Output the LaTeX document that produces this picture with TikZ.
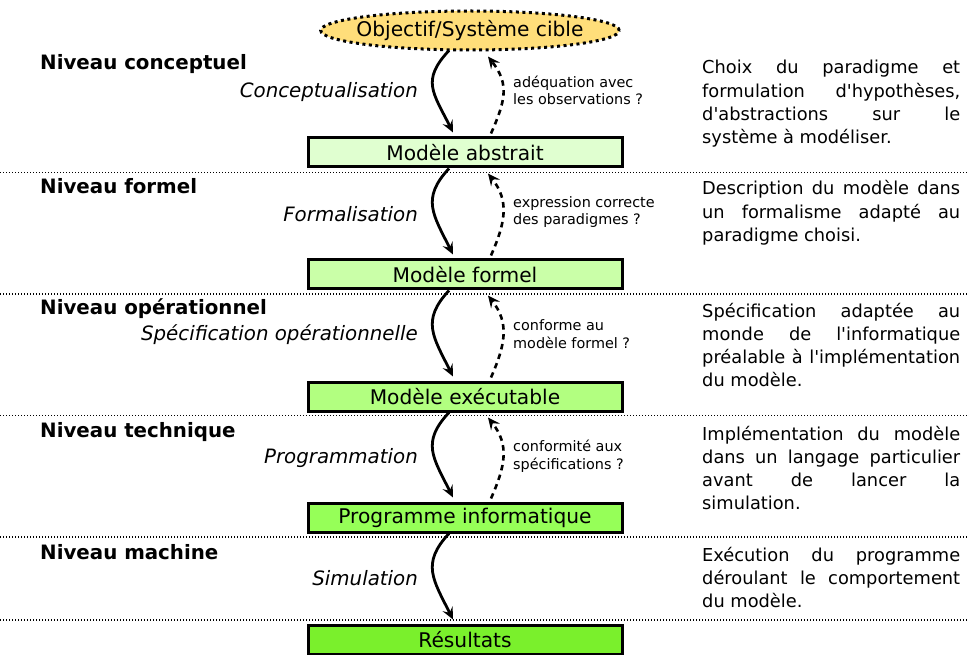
\documentclass[tikz,border=0pt]{standalone}
\usepackage{fontspec}
\setmainfont{DejaVu Sans}[Ligatures=TeXOff]
\usetikzlibrary{arrows.meta,shapes.geometric}

\definecolor{cible}{RGB}{255,222,122}
\definecolor{vertA}{RGB}{224,255,208}
\definecolor{vertB}{RGB}{202,255,168}
\definecolor{vertC}{RGB}{178,255,128}
\definecolor{vertD}{RGB}{150,255,88}
\definecolor{vertE}{RGB}{122,240,44}

\hyphenpenalty=10000
\tolerance=10000

\begin{document}
\begin{tikzpicture}[x=1pt,y=-1pt]
			\tikzstyle{modele}=[draw=black,line width=3pt,minimum width=314pt,minimum height=29pt,inner sep=0pt,font=\fontsize{20.2}{24}\selectfont]
			\tikzstyle{niveau}=[anchor=base west,inner sep=0pt,font=\fontsize{19.8}{23}\selectfont\bfseries]
			\tikzstyle{etape}=[anchor=base east,inner sep=0pt,font=\fontsize{19.8}{23}\selectfont\itshape]
			\tikzstyle{question}=[anchor=base west,inner sep=0pt,align=left,font=\fontsize{14.4}{17.5}\selectfont]
			\tikzstyle{descr}=[anchor=base west,inner sep=0pt,text width=258pt,align=justify,font=\fontsize{17.8}{23.3}\selectfont]
			\tikzstyle{sep}=[line width=1.2pt,dash pattern=on 1.2pt off 1.8pt]
			\tikzstyle{aller}=[line width=2.8pt,-{Stealth[length=12pt,width=11pt,inset=4.5pt]}]
			\tikzstyle{retour}=[line width=2.6pt,dash pattern=on 5.5pt off 4.5pt,-{Stealth[length=12pt,width=11pt,inset=4.5pt]}]
				\useasboundingbox (0,0) rectangle (967,655);
				% separateurs des niveaux
				\draw[sep] (0,172.5) -- (967,172.5);
				\draw[sep] (0,294) -- (967,294);
				\draw[sep] (0,415.5) -- (967,415.5);
				\draw[sep] (0,537) -- (967,537);
				\draw[sep] (0,620) -- (967,620);
				% modeles
				\node[ellipse,draw=black,fill=cible,line width=3pt,dash pattern=on 3pt off 3.5pt,minimum width=296pt,minimum height=39pt,inner xsep=-8pt,inner ysep=0pt,font=\fontsize{20.2}{24}\selectfont](cible) at (470,30.5){Objectif/Système cible};
				\node[modele,fill=vertA](abstrait) at (465,152.5){Modèle abstrait};
				\node[modele,fill=vertB](formel) at (465,274.5){Modèle formel};
				\node[modele,fill=vertC](executable) at (465,396.5){Modèle exécutable};
				\node[modele,fill=vertD](programme) at (465,517.5){Programme informatique};
				\node[modele,fill=vertE](resultats) at (465,639.5){Résultats};
				% niveaux
				\node[niveau](n1) at (40,70){Niveau conceptuel};
				\node[niveau](n2) at (40,193.5){Niveau formel};
				\node[niveau](n3) at (40,315){Niveau opérationnel};
				\node[niveau](n4) at (40,437){Niveau technique};
				\node[niveau](n5) at (40,559){Niveau machine};
				% etapes
				\node[etape](e1) at (418,98){Conceptualisation};
				\node[etape](e2) at (418,222){Formalisation};
				\node[etape](e3) at (418,340){Spécification opérationnelle};
				\node[etape](e4) at (418,463){Programmation};
				\node[etape](e5) at (418,585){Simulation};
				% validations
				\node[question](q1) at (513,105){adéquation avec\\les observations ?};
				\node[question](q2) at (513,225){expression correcte\\des paradigmes ?};
				\node[question](q3) at (513,348){conforme au\\modèle formel ?};
				\node[question](q4) at (513,469){conformité aux\\spécifications ?};
				% descriptions
				\node[descr](d1) at (702,74){Choix du paradigme et\linebreak formulation d'hypothèses,\linebreak d'abstractions sur le\linebreak système à modéliser.};
				\node[descr](d2) at (702,195){Description du modèle dans\linebreak un formalisme adapté au\linebreak paradigme choisi.};
				\node[descr](d3) at (702,317){Spécification adaptée au\linebreak monde de l'informatique\linebreak préalable à l'implémentation\linebreak du modèle.};
				\node[descr](d4) at (702,440){Implémentation du modèle\linebreak dans un langage particulier\linebreak avant de lancer la\linebreak simulation.};
				\node[descr](d5) at (702,561){Exécution du programme\linebreak déroulant le comportement\linebreak du modèle.};
				% fleches
				\draw[aller] ([xshift=-21pt,yshift=1pt]cible.south) .. controls +(-28,30) and +(-20,-40) .. ([xshift=-12pt,yshift=4pt]abstrait.north);
				\draw[aller] ([xshift=-16pt]abstrait.south) .. controls +(-28,30) and +(-20,-40) .. ([xshift=-12pt,yshift=4pt]formel.north);
				\draw[aller] ([xshift=-16pt]formel.south) .. controls +(-28,30) and +(-20,-40) .. ([xshift=-12pt,yshift=4pt]executable.north);
				\draw[aller] ([xshift=-16pt]executable.south) .. controls +(-28,30) and +(-20,-40) .. ([xshift=-12pt,yshift=4pt]programme.north);
				\draw[aller] ([xshift=-16pt]programme.south) .. controls +(-28,30) and +(-20,-40) .. ([xshift=-12pt,yshift=4pt]resultats.north);
				\draw[retour] ([xshift=26pt,yshift=3pt]abstrait.north) .. controls +(14,-32) and +(22,28) .. ([xshift=18pt,yshift=-5pt]cible.south);
				\draw[retour] ([xshift=26pt,yshift=3pt]formel.north) .. controls +(14,-32) and +(22,28) .. ([xshift=23pt,yshift=-5pt]abstrait.south);
				\draw[retour] ([xshift=26pt,yshift=3pt]executable.north) .. controls +(14,-32) and +(22,28) .. ([xshift=23pt,yshift=-5pt]formel.south);
				\draw[retour] ([xshift=26pt,yshift=3pt]programme.north) .. controls +(14,-32) and +(22,28) .. ([xshift=23pt,yshift=-5pt]executable.south);
			\end{tikzpicture}
\end{document}
